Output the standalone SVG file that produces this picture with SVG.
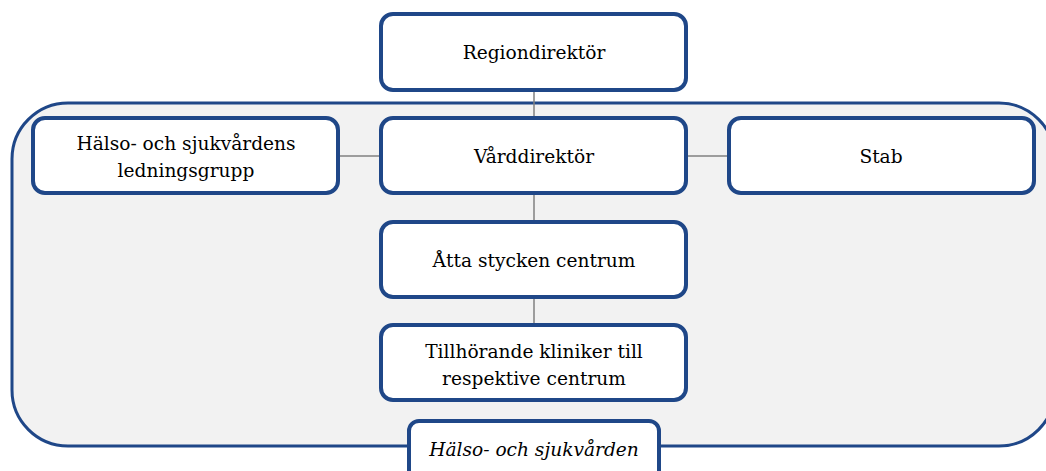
<svg xmlns="http://www.w3.org/2000/svg" width="1046" height="471" viewBox="0 0 1046 471">
<style>
.box{fill:#ffffff;stroke:#1f4788;stroke-width:4}
.t{font-family:"DejaVu Serif","Liberation Serif",serif;font-size:18.6px;fill:#000;text-anchor:middle}
.c{stroke:#808080;stroke-width:1.5;fill:none}
</style>
<rect width="1046" height="471" fill="#ffffff"/>
<g id="container">
<rect x="12" y="103" width="1043" height="343" rx="56" ry="56" fill="#f2f2f2" stroke="#1f4788" stroke-width="3"/>
</g>
<g id="connectors">
<line class="c" x1="534" y1="90" x2="534" y2="118"/>
<line class="c" x1="534" y1="193" x2="534" y2="222"/>
<line class="c" x1="534" y1="297" x2="534" y2="325"/>
<line class="c" x1="338" y1="156" x2="381" y2="156"/>
<line class="c" x1="686" y1="156" x2="729" y2="156"/>
</g>
<g id="regiondirektor">
<rect class="box" x="381" y="14" width="305" height="76" rx="12"/>
<text class="t" x="534" y="59">Regiondirektör</text>
</g>
<g id="varddirektor">
<rect class="box" x="381" y="118" width="305" height="75" rx="12"/>
<text class="t" x="534" y="163">Vårddirektör</text>
</g>
<g id="ledningsgrupp">
<rect class="box" x="33" y="118" width="305" height="75" rx="12"/>
<text class="t" x="186" y="150">Hälso- och sjukvårdens</text>
<text class="t" x="186" y="177">ledningsgrupp</text>
</g>
<g id="stab">
<rect class="box" x="729" y="118" width="305" height="75" rx="12"/>
<text class="t" x="881" y="163">Stab</text>
</g>
<g id="centrum">
<rect class="box" x="381" y="222" width="305" height="75" rx="12"/>
<text class="t" x="534" y="267">Åtta stycken centrum</text>
</g>
<g id="kliniker">
<rect class="box" x="381" y="325" width="305" height="75" rx="12"/>
<text class="t" x="534" y="358">Tillhörande kliniker till</text>
<text class="t" x="534" y="385">respektive centrum</text>
</g>
<g id="label">
<rect class="box" x="409" y="421" width="250" height="60" rx="10"/>
<text class="t" x="534" y="456" font-style="italic">Hälso- och sjukvården</text>
</g>
</svg>
